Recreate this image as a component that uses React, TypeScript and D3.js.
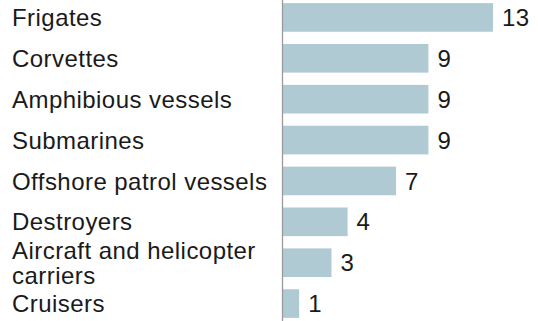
import React from "react";
import * as d3 from "d3";

const categories = [
  "Frigates",
  "Corvettes",
  "Amphibious vessels",
  "Submarines",
  "Offshore patrol vessels",
  "Destroyers",
  "Aircraft and helicopter carriers",
  "Cruisers",
];
const values = [13, 9, 9, 9, 7, 4, 3, 1];
const labelLines: string[][] = [
  ["Frigates"],
  ["Corvettes"],
  ["Amphibious vessels"],
  ["Submarines"],
  ["Offshore patrol vessels"],
  ["Destroyers"],
  ["Aircraft and helicopter", "carriers"],
  ["Cruisers"],
];

const W = 538;
const H = 321;
const FONT = "'Liberation Sans', Arial, Helvetica, sans-serif";

export default function App() {
  const x = d3.scaleLinear().domain([0, 13]).range([283, 493]);
  const y = d3
    .scaleBand<string>()
    .domain(categories)
    .range([-3, 324])
    .paddingInner(0.3)
    .paddingOuter(0.15);
  const fs = 24;
  const lh = 25;
  const ls = 0.45;

  return (
    <svg
      width={W}
      height={H}
      style={{ position: "absolute", left: 0, top: 0, background: "#fff" }}
    >
      {categories.map((c, i) => {
        const y0 = y(c)!;
        const bw = y.bandwidth();
        const cy = y0 + bw / 2;
        const lines = labelLines[i];
        const startY = cy - ((lines.length - 1) * lh) / 2;
        return (
          <g key={c}>
            <rect
              x={x(0)}
              y={y0}
              width={x(values[i]) - x(0)}
              height={bw}
              fill="#afcad3"
            />
            <text
              x={x(values[i]) + 9}
              y={cy}
              dy="0.36em"
              fontFamily={FONT}
              fontSize={fs}
              letterSpacing={ls}
              fill="#1a1a1a"
            >
              {values[i]}
            </text>
            <text
              fontFamily={FONT}
              fontSize={fs}
              letterSpacing={ls}
              fill="#1a1a1a"
            >
              {lines.map((l, j) => (
                <tspan key={j} x={12} y={startY + j * lh} dy="0.36em">
                  {l}
                </tspan>
              ))}
            </text>
          </g>
        );
      })}
      <line
        x1={x(0) - 0.5}
        x2={x(0) - 0.5}
        y1={0}
        y2={H}
        stroke="#9a9a9a"
        strokeWidth={1.3}
      />
    </svg>
  );
}
